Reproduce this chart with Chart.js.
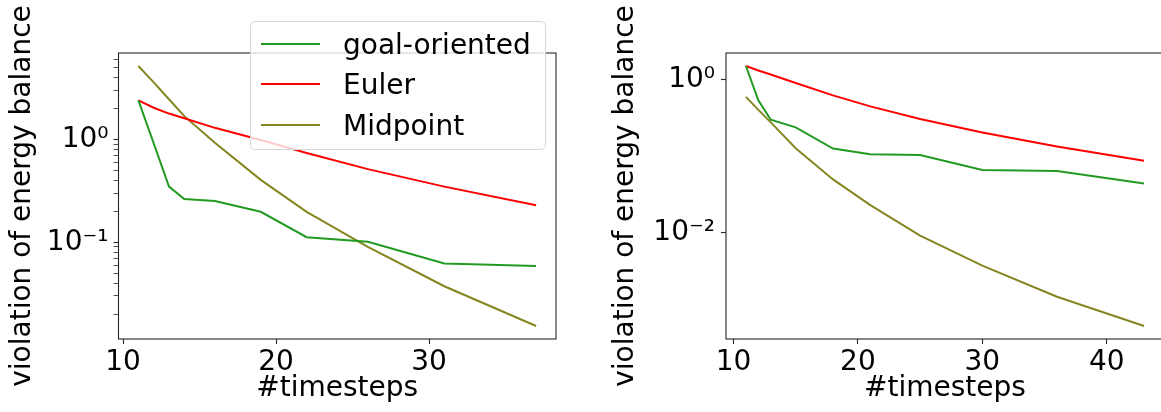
<!DOCTYPE html>
<html>
<head>
<meta charset="utf-8">
<script src="https://cdn.jsdelivr.net/npm/chart.js@4"></script>
<style>
  html, body { margin: 0; padding: 0; background: #fff; overflow: hidden; width: 1161px; height: 412px; }
  #leftChart { position: absolute; left: 0; top: 0; }
  #rightChart { position: absolute; left: 600px; top: 0; }
  #legend {
    position: absolute; left: 250px; top: 21px; width: 294px; height: 127px;
    background: rgba(255, 255, 255, 0.8); border: 1px solid #d6d6d6; border-radius: 5px;
    font-family: 'DejaVu Sans', sans-serif; font-size: 28px; color: #000; z-index: 2;
  }
  .row { position: absolute; left: 0; height: 40px; display: flex; align-items: center; }
  .row span.sample { display: inline-block; width: 59px; height: 2px; margin-left: 10px; margin-right: 23px; }
</style>
</head>
<body>
<canvas id="leftChart" width="580" height="412"></canvas>
<canvas id="rightChart" width="590" height="412"></canvas>
<div id="legend">
  <div class="row" style="top:2px"><span class="sample" style="background:#229a22"></span>goal-oriented</div>
  <div class="row" style="top:42px"><span class="sample" style="background:#ff0000"></span>Euler</div>
  <div class="row" style="top:83px"><span class="sample" style="background:#868620"></span>Midpoint</div>
</div>
<script>
// left panel
const leftSteps = [11, 12, 13, 14, 16, 19, 22, 26, 31, 37];
const leftGoal = [2.41, 0.92, 0.348, 0.264, 0.252, 0.198, 0.112, 0.101, 0.0622, 0.0586];
const leftEuler = [2.41, 2.04, 1.79, 1.61, 1.30, 0.99, 0.74, 0.515, 0.348, 0.229];
const leftMid = [5.2, 3.6, 2.47, 1.69, 0.93, 0.405, 0.198, 0.09, 0.0373, 0.0153];

// right panel
const rightSteps = [11, 12, 13, 15, 18, 21, 25, 30, 36, 43];
const rightGoal = [1.50, 0.534, 0.298, 0.236, 0.125, 0.105, 0.103, 0.0655, 0.0635, 0.0437];
const rightEuler = [1.50, 1.31, 1.16, 0.90, 0.62, 0.445, 0.304, 0.203, 0.133, 0.0867];
const rightMid = [0.592, 0.40, 0.275, 0.126, 0.0493, 0.0227, 0.0091, 0.00368, 0.00144, 0.000597];

// tick labels
const xTicksLeft = [10, 20, 30];
const xTicksRight = [10, 20, 30, 40];
const yMajorLeft = [1, 0.1];
const yMajorRight = [1, 0.01];
const yMinorLeft = [2, 3, 4, 5, 6, 0.2, 0.3, 0.4, 0.5, 0.6, 0.7, 0.8, 0.9, 0.02, 0.03, 0.04, 0.05, 0.06, 0.07, 0.08, 0.09];
const yMinorRight = [];
const yLabels = { '1': '10⁰', '0.1': '10⁻¹', '0.01': '10⁻²' };

Chart.defaults.font.family = "'DejaVu Sans', sans-serif";
Chart.defaults.color = '#000';

const toPoints = (xs, ys) => xs.map((x, i) => ({ x: x, y: ys[i] }));

// axes box on all four sides, like matplotlib spines
const framePlugin = {
    id: 'frame',
    afterDraw(chart) {
        const { ctx, chartArea: a } = chart;
        ctx.save();
        ctx.strokeStyle = '#262626';
        ctx.lineWidth = 1.1;
        ctx.strokeRect(a.left, a.top, a.right - a.left, a.bottom - a.top);
        ctx.restore();
    }
};

function makeChart(id, cfg) {
    const majors = cfg.yMajor;
    const yTicks = majors.concat(cfg.yMinor);
    return new Chart(document.getElementById(id), {
        type: 'line',
        data: {
            datasets: [
                { label: 'goal-oriented', data: toPoints(cfg.steps, cfg.goal), borderColor: '#229a22' },
                { label: 'Euler', data: toPoints(cfg.steps, cfg.euler), borderColor: '#ff0000' },
                { label: 'Midpoint', data: toPoints(cfg.steps, cfg.mid), borderColor: '#868620' }
            ]
        },
        options: {
            responsive: false,
            animation: false,
            devicePixelRatio: 1,
            layout: { padding: { left: 0, top: 53, right: cfg.padRight, bottom: 0 } },
            elements: {
                line: { borderWidth: 2, tension: 0, fill: false },
                point: { radius: 0 }
            },
            plugins: { legend: { display: false }, tooltip: { enabled: false } },
            scales: {
                x: {
                    type: 'linear',
                    min: cfg.xMin,
                    max: cfg.xMax,
                    afterBuildTicks: (scale) => { scale.ticks = cfg.xTicks.map(v => ({ value: v })); },
                    afterFit: (scale) => { scale.height = 73; },
                    grid: { drawOnChartArea: false, drawTicks: true, tickLength: 5, tickColor: '#262626', tickWidth: 1.1 },
                    border: { display: false },
                    ticks: { font: { size: 28 }, padding: 2, maxRotation: 0, autoSkip: false },
                    title: { display: true, text: '#timesteps', font: { size: 28 }, padding: { top: 0, bottom: 6 } }
                },
                y: {
                    type: 'logarithmic',
                    min: cfg.yMin,
                    max: cfg.yMax,
                    afterBuildTicks: (scale) => { scale.ticks = yTicks.map(v => ({ value: v })); },
                    afterFit: (scale) => { scale.width = cfg.yWidth; },
                    grid: {
                        drawOnChartArea: false, drawTicks: true, tickLength: 5, tickColor: '#262626',
                        tickWidth: (c) => (majors.includes(c.tick.value) ? 1.1 : 0.8)
                    },
                    border: { display: false },
                    ticks: {
                        font: { size: 28 },
                        padding: cfg.yPad,
                        autoSkip: false,
                        callback: (v) => (majors.includes(v) ? yLabels[String(v)] : '')
                    },
                    title: { display: true, text: 'violation of energy balance', font: { size: 28 }, padding: { top: cfg.titlePad, bottom: 0 } }
                }
            }
        },
        plugins: [framePlugin]
    });
}

makeChart('leftChart', {
    steps: leftSteps, goal: leftGoal, euler: leftEuler, mid: leftMid,
    xMin: 9.7, xMax: 38.3, xTicks: xTicksLeft,
    yMin: 0.01143, yMax: 6.96, yMajor: yMajorLeft, yMinor: yMinorLeft,
    yWidth: 118.5, padRight: 24, yPad: 5, titlePad: 6
});

makeChart('rightChart', {
    steps: rightSteps, goal: rightGoal, euler: rightEuler, mid: rightMid,
    xMin: 9.4, xMax: 44.6, xTicks: xTicksRight,
    yMin: 0.000404, yMax: 2.218, yMajor: yMajorRight, yMinor: yMinorRight,
    yWidth: 126, padRight: 26, yPad: 6, titlePad: 9
});
</script>
</body>
</html>
